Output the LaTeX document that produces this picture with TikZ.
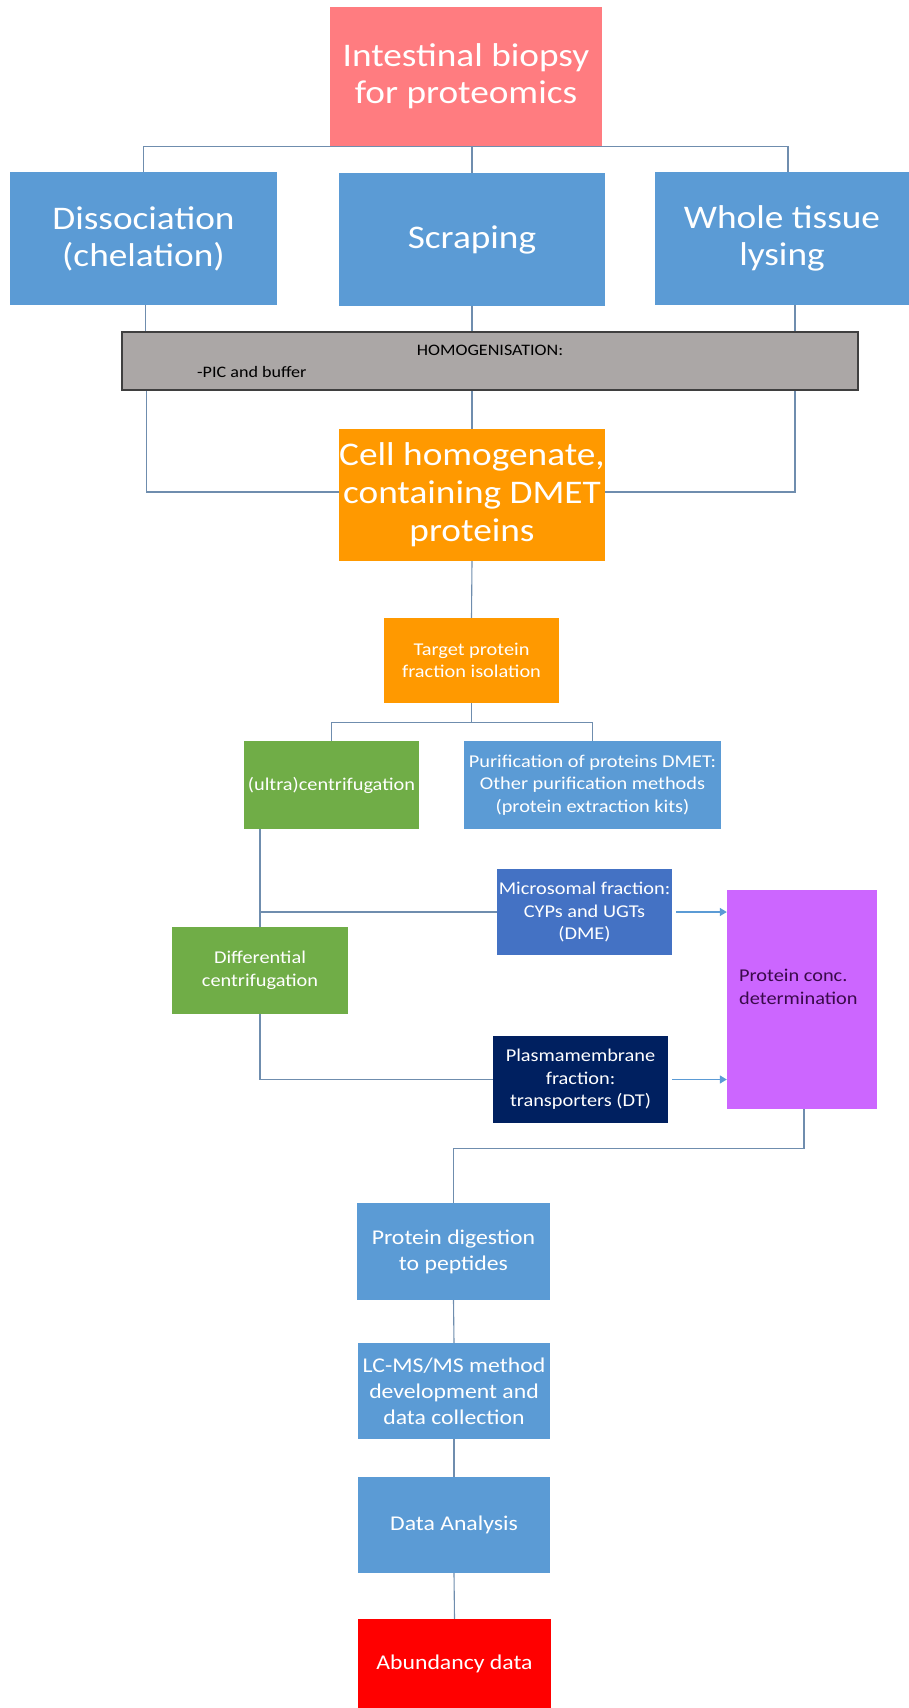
\documentclass[tikz,border=0pt]{standalone}
\usepackage{fontspec}
\setmainfont{Carlito}[FakeStretch=1.13]
\usetikzlibrary{arrows.meta}

\definecolor{biopsyred}{HTML}{FF7C80}
\definecolor{stepblue}{HTML}{5B9BD5}
\definecolor{homgrey}{HTML}{ABA7A6}
\definecolor{homedge}{HTML}{3F3F3F}
\definecolor{cellorange}{HTML}{FF9900}
\definecolor{centgreen}{HTML}{70AD47}
\definecolor{microblue}{HTML}{4472C4}
\definecolor{plasmanavy}{HTML}{002060}
\definecolor{concviolet}{HTML}{CC66FF}
\definecolor{concink}{HTML}{3A0A4A}
\definecolor{resultred}{HTML}{FF0000}
\definecolor{linkgrey}{HTML}{6F8DAE}

\begin{document}
\begin{tikzpicture}[
  x=1pt, y=-1pt,
  box/.style={rectangle, inner sep=1pt, align=center, text=white},
  conn/.style={draw=linkgrey, line width=1.1pt},
  arr/.style={draw=stepblue, line width=1.4pt, shorten <=4pt,
    -{Triangle[length=7pt, width=8pt]}},
  huge/.style={font=\fontsize{33}{38}\selectfont, inner xsep=0pt},
  big/.style={font=\fontsize{33}{37}\selectfont},
  mid/.style={font=\fontsize{21}{26}\selectfont},
  small/.style={font=\fontsize{18}{22.5}\selectfont},
  tiny/.style={font=\fontsize{16}{19}\selectfont, text=black, inner sep=0pt}
]
  \useasboundingbox (0,0) rectangle (909,1708);

  % sample and preparation
  \node[box, big, fill=biopsyred, minimum width=272pt, minimum height=139pt]
    (biopsy) at (466,76.5) {Intestinal biopsy\\for proteomics};
  \node[box, big, fill=stepblue, minimum width=267pt, minimum height=133pt]
    (dissoc) at (143.5,238.5) {Dissociation\\(chelation)};
  \node[box, big, fill=stepblue, minimum width=266pt, minimum height=133pt]
    (scraping) at (472,239.5) {Scraping};
  \node[box, big, fill=stepblue, minimum width=254pt, minimum height=133pt]
    (whole) at (782,238.5) {Whole tissue\\lysing};

  \node[rectangle, fill=homgrey, draw=homedge, line width=1.5pt,
    minimum width=736pt, minimum height=58pt] (homog) at (490,361) {};
  \node[tiny] (homtitle) at (490,350) {HOMOGENISATION:};
  \node[tiny, anchor=west] (homitem) at (197,372) {-PIC and buffer};

  \node[box, huge, fill=cellorange, minimum width=266pt, minimum height=132pt]
    (cell) at (472,495) {Cell homogenate,\\containing DMET\\proteins};

  % fractionation
  \node[box, small, fill=cellorange, minimum width=175pt, minimum height=85pt]
    (target) at (471.5,660.5) {Target protein\\fraction isolation};
  \node[box, small, fill=centgreen, minimum width=175pt, minimum height=88pt]
    (ultra) at (331.5,785) {(ultra)centrifugation};
  \node[box, small, fill=stepblue, minimum width=257pt, minimum height=88pt]
    (purif) at (592.5,785)
    {Purification of proteins DMET:\\Other purification methods\\(protein extraction kits)};
  \node[box, small, fill=microblue, minimum width=175pt, minimum height=86pt]
    (micro) at (584.5,912) {Microsomal fraction:\\CYPs and UGTs\\(DME)};
  \node[box, small, fill=centgreen, minimum width=176pt, minimum height=87pt]
    (diff) at (260,970.5) {Differential\\centrifugation};
  \node[box, small, fill=plasmanavy, minimum width=175pt, minimum height=87pt]
    (plasma) at (580.5,1079.5) {Plasmamembrane\\fraction:\\transporters (DT)};
  \node[rectangle, fill=concviolet, minimum width=150pt, minimum height=219pt]
    (conc) at (802,999.5) {};
  \node[small, text=concink, align=left, anchor=west, inner sep=0pt]
    (conctxt) at (739,987) {Protein conc.\\determination};

  % analysis
  \node[box, mid, fill=stepblue, minimum width=193pt, minimum height=97pt]
    (digest) at (453.5,1251.5) {Protein digestion\\to peptides};
  \node[box, mid, fill=stepblue, minimum width=192pt, minimum height=96pt]
    (lcms) at (454,1391) {LC-MS/MS method\\development and\\data collection};
  \node[box, mid, fill=stepblue, minimum width=192pt, minimum height=96pt]
    (analysis) at (454,1525) {Data Analysis};
  \node[box, mid, fill=resultred, minimum width=193pt, minimum height=89pt]
    (abund) at (454.5,1663.5) {Abundancy data};

  % connectors
  \draw[conn] (dissoc.north) |- (biopsy.south) -| ([xshift=6pt]whole.north);
  \draw[conn] (biopsy.south -| scraping.north) -- (scraping.north);
  \draw[conn] ([xshift=2pt]dissoc.south) -- ([xshift=2pt]dissoc.south |- homog.north);
  \draw[conn] (scraping.south) -- (scraping.south |- homog.north);
  \draw[conn] ([xshift=13pt]whole.south) -- ([xshift=13pt]whole.south |- homog.north);
  \draw[conn] ([xshift=3pt]homog.south -| dissoc.south) |- ([yshift=3pt]cell.west);
  \draw[conn] ([xshift=13pt]homog.south -| whole.south) |- ([yshift=3pt]cell.east);
  \draw[conn] (homog.south -| cell.north) -- (cell.north);
  \draw[conn] (cell.south) -- (target.north);
  \draw[conn] (target.south) -- ++(0,19) coordinate (tsplit);
  \draw[conn] (ultra.north) |- (tsplit) -| (purif.north);
  \draw[conn] (ultra.south -| diff.north) -- (diff.north);
  \draw[conn] (diff.north |- micro.west) -- (micro.west);
  \draw[conn] (diff.south) |- (plasma.west);
  \draw[arr] (micro.east) -- (micro.east -| conc.west);
  \draw[arr] (plasma.east) -- (plasma.east -| conc.west);
  \draw[conn] ([xshift=2pt]conc.south) -- ++(0,39) -| (digest.north);
  \draw[conn] (digest.south) -- (lcms.north);
  \draw[conn] (lcms.south) -- (analysis.north);
  \draw[conn] (analysis.south) -- (abund.north);
\end{tikzpicture}
\end{document}
